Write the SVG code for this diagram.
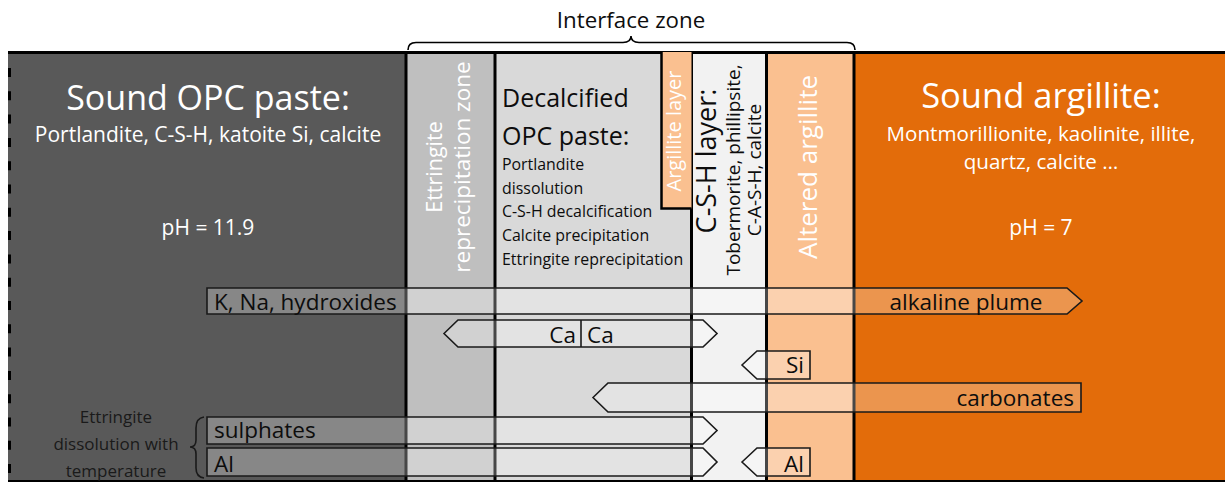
<svg xmlns="http://www.w3.org/2000/svg" width="1225" height="483" viewBox="0 0 1225 483">
  <style>
    text { font-family: "Open Sans", "Noto Sans", "DejaVu Sans", sans-serif; }
    .w { fill: #ffffff; }
    .k { fill: #0d0d0d; }
    .zoneline { stroke: #000000; stroke-width: 3; fill: none; }
    .flux { fill: #ffffff; fill-opacity: 0.28; stroke: #1a1a1a; stroke-width: 1.6; stroke-linejoin: miter; }
    .ftxt { font-size: 22.5px; fill: #0d0d0d; }
  </style>

  <rect x="0" y="0" width="1225" height="483" fill="#ffffff"/>

  <!-- Zones -->
  <g id="sound-opc">
    <rect x="8" y="52" width="399" height="429" fill="#595959"/>
    <line x1="9.5" y1="68" x2="9.5" y2="481" stroke="#000000" stroke-width="3" stroke-dasharray="9 14.3"/>
    <text class="w" x="208" y="110" font-size="34" text-anchor="middle">Sound OPC paste:</text>
    <text class="w" x="208" y="142" font-size="21" text-anchor="middle">Portlandite, C-S-H, katoite Si, calcite</text>
    <text class="w" x="208" y="235" font-size="21" text-anchor="middle">pH = 11.9</text>
  </g>

  <g id="ettringite-zone">
    <rect x="407" y="52" width="88" height="429" fill="#BFBFBF"/>
    <text class="w" font-size="21.5" text-anchor="middle" transform="translate(442,167) rotate(-90)">Ettringite</text>
    <text class="w" font-size="22.5" text-anchor="middle" transform="translate(470,167) rotate(-90)">reprecipitation zone</text>
  </g>

  <g id="decalcified-opc">
    <rect x="495" y="52" width="197" height="429" fill="#D9D9D9"/>
    <text class="k" x="502" y="107" font-size="25">Decalcified</text>
    <text class="k" x="502" y="145" font-size="25">OPC paste:</text>
    <text class="k" x="502" y="170" font-size="15.9">Portlandite</text>
    <text class="k" x="502" y="194" font-size="15.9">dissolution</text>
    <text class="k" x="502" y="217" font-size="15.9">C-S-H decalcification</text>
    <text class="k" x="502" y="241" font-size="15.9">Calcite precipitation</text>
    <text class="k" x="502" y="265" font-size="15.9">Ettringite reprecipitation</text>
  </g>

  <g id="csh-layer">
    <rect x="692" y="52" width="75" height="429" fill="#F2F2F2"/>
    <text class="k" font-size="27" text-anchor="middle" transform="translate(716,161) rotate(-90)">C-S-H layer:</text>
    <text class="k" font-size="19" text-anchor="middle" transform="translate(739.5,170) rotate(-90)">Tobermorite, phillipsite,</text>
    <text class="k" font-size="19" text-anchor="middle" transform="translate(760.5,170) rotate(-90)">C-A-S-H, calcite</text>
  </g>

  <g id="altered-argillite">
    <rect x="767" y="52" width="87" height="429" fill="#FAC090"/>
    <text class="w" font-size="26" text-anchor="middle" transform="translate(816.5,167) rotate(-90)">Altered argillite</text>
  </g>

  <g id="sound-argillite">
    <rect x="854" y="52" width="371" height="429" fill="#E36C0A"/>
    <text class="w" x="1041" y="108" font-size="34.5" text-anchor="middle">Sound argillite:</text>
    <text class="w" x="1041" y="141" font-size="20.6" text-anchor="middle">Montmorillionite, kaolinite, illite,</text>
    <text class="w" x="1041" y="169" font-size="20.6" text-anchor="middle">quartz, calcite …</text>
    <text class="w" x="1041" y="235" font-size="21" text-anchor="middle">pH = 7</text>
  </g>

  <!-- Zone boundaries -->
  <g id="boundaries">
    <line class="zoneline" x1="406" y1="52" x2="406" y2="481"/>
    <line class="zoneline" x1="495" y1="52" x2="495" y2="481"/>
    <line class="zoneline" x1="691.5" y1="52" x2="691.5" y2="481"/>
    <line class="zoneline" x1="766.5" y1="52" x2="766.5" y2="481"/>
    <line class="zoneline" x1="854" y1="52" x2="854" y2="481"/>
    <line x1="8" y1="52.5" x2="1225" y2="52.5" stroke="#000000" stroke-width="3"/>
    <line x1="8" y1="481" x2="1225" y2="481" stroke="#000000" stroke-width="2"/>
  </g>

  <g id="argillite-layer">
    <path d="M661.5,52 L661.5,208.5 L691.5,208.5 L691.5,52 Z" fill="#FAC090"/>
    <path d="M661.5,52 L661.5,208.5 L691.5,208.5" fill="none" stroke="#000000" stroke-width="2.5"/>
    <text class="w" font-size="20" text-anchor="middle" transform="translate(681,131) rotate(-90)">Argillite layer</text>
  </g>

  <!-- Interface zone brace -->
  <g id="interface-zone">
    <path d="M408,50 Q408,42.5 416,42.5 L623,42.5 Q631,42.5 631,36 Q631,42.5 639,42.5 L847,42.5 Q855,42.5 855,50" fill="none" stroke="#000000" stroke-width="1.6"/>
    <text class="k" x="631" y="28" font-size="22.3" text-anchor="middle">Interface zone</text>
  </g>

  <!-- Fluxes / connectors -->
  <g id="connectors">
    <path class="flux" d="M207,288 L1067,288 L1082,301 L1067,314 L207,314 Z"/>
    <path class="flux" d="M444,333.5 L458,320 L703,320 L717,333.5 L703,347 L458,347 Z"/>
    <line x1="581" y1="320" x2="581" y2="347" stroke="#1a1a1a" stroke-width="1.6"/>
    <path class="flux" d="M742,365 L757,351 L810,351 L810,379 L757,379 Z"/>
    <path class="flux" d="M593,397.5 L608,383 L1081,383 L1081,412 L608,412 Z"/>
    <path class="flux" d="M207,417 L703,417 L717,430.5 L703,444 L207,444 Z"/>
    <path class="flux" d="M207,448 L703,448 L717,462 L703,476 L207,476 Z"/>
    <path class="flux" d="M742,462 L757,448 L810,448 L810,476 L757,476 Z"/>

    <text class="ftxt" x="214" y="310">K, Na, hydroxides</text>
    <text class="ftxt" x="966" y="310" text-anchor="middle">alkaline plume</text>
    <text class="ftxt" x="576" y="343" text-anchor="end">Ca</text>
    <text class="ftxt" x="587" y="343">Ca</text>
    <text class="ftxt" x="804" y="373" text-anchor="end">Si</text>
    <text class="ftxt" x="1074" y="406" text-anchor="end">carbonates</text>
    <text class="ftxt" x="214" y="438">sulphates</text>
    <text class="ftxt" x="214" y="472">Al</text>
    <text class="ftxt" x="804" y="472" text-anchor="end">Al</text>
  </g>

  <g id="ettringite-dissolution">
    <path d="M204,417 Q196,418 196,428 L196,440 Q196,447 190,447 Q196,447 196,454 L196,468 Q196,477 204,478" fill="none" stroke="#1a1a1a" stroke-width="1.6"/>
    <text x="116" y="423" font-size="17" fill="#1a1a1a" text-anchor="middle">Ettringite</text>
    <text x="116" y="450" font-size="17" fill="#1a1a1a" text-anchor="middle">dissolution with</text>
    <text x="116" y="477" font-size="17" fill="#1a1a1a" text-anchor="middle">temperature</text>
  </g>
</svg>
